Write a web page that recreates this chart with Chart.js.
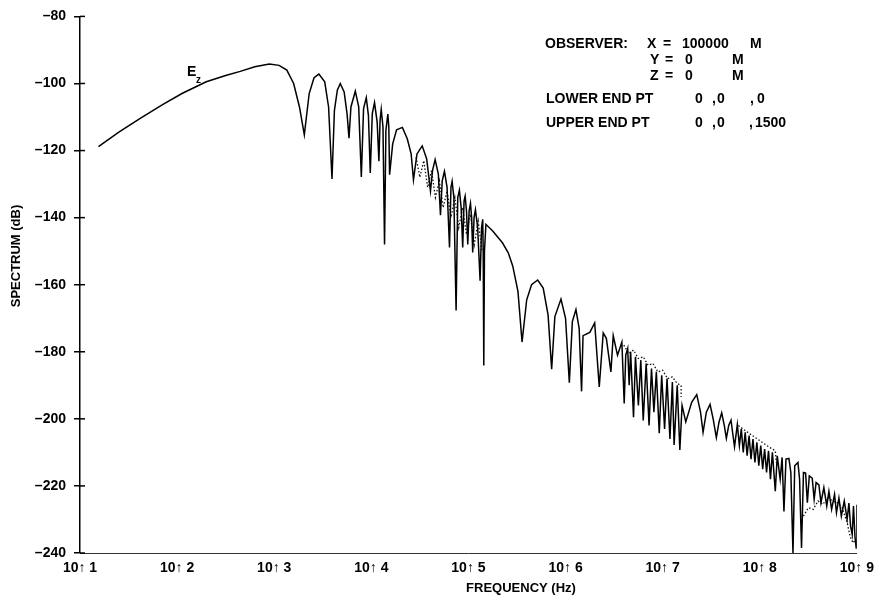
<!DOCTYPE html>
<html>
<head>
<meta charset="utf-8">
<script src="https://cdn.jsdelivr.net/npm/chart.js@4"></script>
<style>
  html, body { margin: 0; padding: 0; background: #fff; }
  #wrap { width: 881px; height: 600px; }
</style>
</head>
<body>
<div id="wrap"><canvas id="spec" width="881" height="600"></canvas></div>
<script>
// --- axis ticks
const decades = [1, 2, 3, 4, 5, 6, 7, 8, 9];
const dbTicks = [-80, -100, -120, -140, -160, -180, -200, -220, -240];

// --- E_z spectrum: log10 of frequency (Hz) and level (dB)
const logFreq = [
  1.19, 1.40, 1.62, 1.85, 2.05, 2.30, 2.50, 2.65, 2.80, 2.95, 3.05, 3.13, 3.20, 3.26, 3.31,
  3.36, 3.41, 3.46, 3.52, 3.56, 3.595, 3.62, 3.65, 3.68, 3.72, 3.75, 3.77, 3.79, 3.835, 3.87,
  3.897, 3.92, 3.948, 3.97, 3.989, 4.01, 4.033, 4.06, 4.078, 4.09, 4.102, 4.12, 4.136, 4.15, 4.17,
  4.18, 4.188, 4.22, 4.26, 4.32, 4.37, 4.41, 4.434, 4.47, 4.524, 4.57, 4.609, 4.63, 4.657, 4.69,
  4.712, 4.73, 4.753, 4.78, 4.805, 4.82, 4.832, 4.85, 4.873, 4.89, 4.907, 4.925, 4.941, 4.955, 4.966,
  4.98, 4.993, 5.007, 5.021, 5.033, 5.044, 5.058, 5.072, 5.095, 5.12, 5.135, 5.147, 5.152, 5.158, 5.165,
  5.18, 5.25, 5.35, 5.41, 5.456, 5.51, 5.552, 5.60, 5.65, 5.713, 5.77, 5.82, 5.857, 5.89, 5.953,
  6.00, 6.039, 6.07, 6.107, 6.14, 6.165, 6.18, 6.25, 6.30, 6.347, 6.388, 6.42, 6.467, 6.491, 6.535,
  6.58, 6.604, 6.62, 6.64, 6.655, 6.67, 6.70, 6.72, 6.75, 6.775, 6.80, 6.83, 6.86, 6.885, 6.91,
  6.935, 6.965, 6.99, 7.02, 7.045, 7.075, 7.10, 7.118, 7.15, 7.177, 7.20, 7.238, 7.30, 7.351, 7.39,
  7.416, 7.45, 7.488, 7.52, 7.553, 7.58, 7.608, 7.635, 7.656, 7.68, 7.704, 7.72, 7.74, 7.769, 7.79,
  7.81, 7.83, 7.85, 7.87, 7.89, 7.91, 7.93, 7.95, 7.97, 7.99, 8.01, 8.03, 8.05, 8.07, 8.09,
  8.11, 8.13, 8.16, 8.18, 8.21, 8.23, 8.249, 8.27, 8.30, 8.32, 8.342, 8.36, 8.393, 8.41, 8.43,
  8.45, 8.472, 8.49, 8.51, 8.54, 8.56, 8.58, 8.609, 8.63, 8.66, 8.69, 8.712, 8.74, 8.77, 8.79,
  8.815, 8.84, 8.87, 8.90, 8.918, 8.935, 8.952, 8.965, 8.98, 8.993, 9.0
];
const spectrumDb = [
  -118.8, -114.5, -110.4, -106.3, -103.0, -99.5, -97.6, -96.4, -95.0, -94.2, -94.6, -96.0, -100.0, -107.0, -115.3,
  -103.0, -98.3, -97.2, -99.5, -107.0, -128.5, -108.0, -102.0, -100.0, -102.5, -109.0, -116.3, -107.0, -102.3, -107.0,
  -127.9, -107.5, -104.2, -109.5, -126.7, -109.0, -105.7, -111.5, -123.2, -111.0, -107.7, -113.0, -148.0, -114.0, -109.1,
  -113.0, -127.2, -118.0, -113.8, -113.1, -116.5, -121.0, -128.7, -121.0, -118.6, -122.5, -132.1, -126.0, -122.7, -127.0,
  -139.3, -129.0, -126.2, -131.0, -148.9, -131.0, -129.2, -134.0, -167.7, -134.0, -131.8, -137.0, -148.9, -135.0, -133.6,
  -138.0, -148.0, -138.0, -135.8, -140.0, -150.4, -140.0, -137.6, -143.0, -158.8, -143.0, -140.5, -150.0, -184.1, -150.0,
  -142.0, -144.0, -147.5, -150.5, -154.4, -162.0, -177.1, -164.5, -160.0, -158.6, -161.0, -169.0, -185.2, -169.5, -164.3,
  -170.0, -189.2, -171.0, -167.4, -173.0, -191.8, -175.2, -174.2, -171.4, -190.5, -174.4, -176.0, -186.0, -175.2, -181.0,
  -177.1, -195.4, -181.0, -179.0, -190.0, -180.0, -199.5, -181.5, -196.0, -182.5, -200.5, -183.5, -202.0, -185.0, -198.0,
  -186.0, -204.3, -187.0, -203.0, -188.0, -206.0, -189.0, -207.8, -190.0, -209.3, -196.0, -200.9, -195.0, -192.8, -198.0,
  -204.0, -198.0, -195.7, -200.0, -205.6, -201.0, -198.2, -202.0, -205.8, -202.0, -200.4, -204.0, -208.3, -201.7, -208.0,
  -203.0, -210.0, -204.0, -211.0, -205.0, -212.0, -206.0, -213.0, -207.0, -214.0, -208.0, -215.0, -209.0, -216.0, -209.5,
  -218.0, -210.0, -221.6, -211.0, -218.0, -211.5, -227.6, -212.0, -211.8, -216.0, -240.0, -214.0, -213.0, -218.0, -238.5,
  -216.0, -216.2, -225.0, -217.0, -217.7, -224.0, -219.0, -219.7, -225.0, -220.5, -226.0, -221.6, -227.0, -222.5, -228.0,
  -223.6, -229.0, -224.5, -230.0, -225.1, -232.0, -234.5, -226.0, -235.0, -238.5, -225.6
];

// --- fine structure traced as dots (null = pen up)
const fineLogFreq = [
  4.46, 4.50, 4.54, 4.58, 4.62, 4.66, 4.70, 4.74, 4.78, 4.82, 4.86, 4.90, 4.94, 4.98, 5.02, 5.06, 5.10, 5.14, null,
  6.60, 6.65, 6.70, 6.75, 6.80, 6.85, 6.90, 6.95, 7.00, 7.05, 7.10, 7.15, 7.19, 7.19, null,
  7.78, 7.85, 7.90, 7.95, 8.00, 8.05, 8.10, 8.16, 8.17, null,
  8.45, 8.50, 8.55, 8.60, 8.65, 8.70, 8.75, 8.80, 8.85, 8.90, 8.93, 8.96, 8.99
];
const fineDb = [
  -122, -128, -123, -131, -126, -134, -129, -137, -132, -140, -134, -143, -137, -145, -139, -148, -141, -150, null,
  -178, -180.5, -179.5, -182, -181.5, -184, -183.5, -186, -185.5, -188, -187.5, -189.5, -190, -193.5, null,
  -202, -203.5, -204.5, -205.5, -206.5, -207.5, -208.5, -209.5, -213, null,
  -229, -226.5, -227, -224.5, -225.5, -223.5, -224.5, -225, -226.5, -231, -235, -237, -236
];

const FONT = "'Liberation Sans', Arial, Helvetica, sans-serif";

// annotation block in the upper right, left x / centre y
const notes = [
  ['OBSERVER:', 545, 44], ['X', 647, 44], ['=', 663, 44], ['100000', 682, 44], ['M', 750, 44],
  ['Y', 650, 60], ['=', 665, 60], ['0', 685, 60], ['M', 732, 60],
  ['Z', 650, 76], ['=', 665, 76], ['0', 685, 76], ['M', 732, 76],
  ['LOWER END PT', 546, 99], ['0', 695, 99], [',', 712, 99], ['0', 717, 99], [',', 750, 99], ['0', 757, 99],
  ['UPPER END PT', 546, 123], ['0', 695, 123], [',', 712, 123], ['0', 717, 123], [',', 749, 123], ['1500', 755, 123]
];

const labelsPlugin = {
  id: 'labels',
  afterDraw(chart) {
    const {ctx, scales: {y}} = chart;
    ctx.save();
    ctx.fillStyle = '#000';
    ctx.strokeStyle = '#000';
    // inner half of the y tick crosses
    ctx.lineWidth = 1.5;
    dbTicks.forEach(v => {
      const py = y.getPixelForValue(v);
      ctx.beginPath(); ctx.moveTo(80, py); ctx.lineTo(85, py); ctx.stroke();
    });
    ctx.font = 'bold 14px ' + FONT;
    ctx.textBaseline = 'middle';
    ctx.textAlign = 'left';
    notes.forEach(([t, x, yy]) => ctx.fillText(t, x, yy));
    // curve label E_z
    ctx.fillText('E', 187, 72);
    ctx.font = 'bold 10px ' + FONT;
    ctx.fillText('z', 196, 80);
    // axis titles
    ctx.font = 'bold 13px ' + FONT;
    ctx.textAlign = 'center';
    ctx.fillText('FREQUENCY (Hz)', 521, 588);
    ctx.translate(16, 256);
    ctx.rotate(-Math.PI / 2);
    ctx.fillText('SPECTRUM (dB)', 0, 0);
    ctx.restore();
  }
};

new Chart(document.getElementById('spec'), {
  type: 'line',
  data: {
    datasets: [
      {
        data: logFreq.map((x, i) => ({x, y: spectrumDb[i]})),
        borderColor: '#000', borderWidth: 1.5, pointRadius: 0, tension: 0
      },
      {
        data: fineLogFreq.map((x, i) => ({x, y: fineDb[i]})),
        borderColor: '#111', borderWidth: 1.3, borderDash: [1.5, 2], pointRadius: 0, tension: 0, spanGaps: false
      }
    ]
  },
  options: {
    responsive: false,
    animation: false,
    layout: {padding: {top: 15, right: 23, left: 0, bottom: 0}},
    plugins: {legend: {display: false}, tooltip: {enabled: false}},
    scales: {
      x: {
        type: 'linear', min: 1, max: 9,
        afterFit: s => { s.height = 47; },
        afterBuildTicks: s => { s.ticks = decades.map(v => ({value: v})); },
        grid: {display: true, drawOnChartArea: false, drawTicks: false},
        border: {display: true, color: '#333', width: 1, dash: [26, 6, 3, 6]},
        ticks: {
          padding: 7, color: '#000', maxRotation: 0,
          font: {family: FONT, size: 14, weight: 'bold'},
          callback: v => '10\u2191 ' + v
        }
      },
      y: {
        type: 'linear', min: -240, max: -80,
        afterFit: s => { s.width = 80; },
        afterBuildTicks: s => { s.ticks = dbTicks.map(v => ({value: v})); },
        grid: {display: true, drawOnChartArea: false, drawTicks: true, tickLength: 6, color: '#000', lineWidth: 1.5},
        border: {display: true, color: '#000', width: 1.5},
        ticks: {
          padding: 8, color: '#000',
          font: {family: FONT, size: 14, weight: 'bold'},
          callback: v => '\u2013' + Math.abs(v)
        }
      }
    }
  },
  plugins: [labelsPlugin]
});
</script>
</body>
</html>
